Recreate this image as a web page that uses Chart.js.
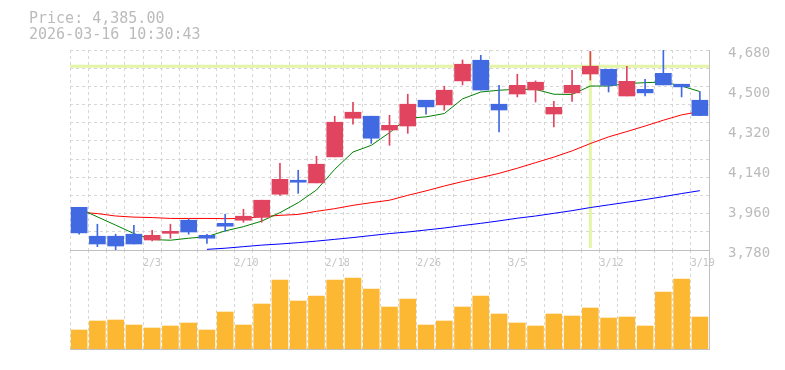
<!DOCTYPE html>
<html>
<head>
<meta charset="utf-8">
<script src="https://cdn.jsdelivr.net/npm/chart.js@4.4.1/dist/chart.umd.min.js"></script>
<style>
body { margin: 0; background: #fff; width: 785px; height: 370px; overflow: hidden; position: relative; }
.layer { position: absolute; left: 0; top: 0; }
#info { position: absolute; left: 29px; top: 10px; color: #bbb; font: 15px "DejaVu Sans Mono", monospace; line-height: 16px; white-space: pre; }
</style>
</head>
<body>
<canvas id="vol" class="layer" width="785" height="370"></canvas>
<canvas id="price" class="layer" width="785" height="370"></canvas>
<div id="info">Price: 4,385.00
2026-03-16 10:30:43</div>
<script>
// ////// data ////////
const dates = ['1/28','1/29','1/30','2/2','2/3','2/4','2/5','2/6','2/9','2/10','2/12','2/13','2/16','2/17','2/18','2/19','2/20','2/24','2/25','2/26','2/27','3/2','3/3','3/4','3/5','3/6','3/9','3/10','3/11','3/12','3/13','3/16','3/17','3/18','3/19'];
const labelDates = ['2/3','2/10','2/18','2/26','3/5','3/12','3/19'];
const opens  = [3972,3842,3842,3851,3825,3855,3914,3846,3900,3914,3927,4031,4094,4082,4199,4373,4382,4320,4338,4454,4433,4541,4634,4436,4482,4500,4392,4487,4572,4593,4473,4503,4575,4526,4454];
const closes = [3857,3807,3798,3807,3846,3864,3861,3833,3887,3932,4004,4098,4085,4166,4355,4400,4283,4341,4436,4424,4499,4616,4500,4410,4521,4535,4422,4521,4607,4521,4539,4487,4523,4514,4385];
const highs  = [3972,3896,3851,3891,3869,3896,3918,3851,3941,3963,4004,4170,4139,4202,4382,4445,4382,4386,4481,4454,4517,4635,4656,4521,4571,4541,4449,4589,4674,4593,4607,4548,4680,4526,4493];
const lows   = [3851,3795,3780,3807,3821,3833,3851,3810,3864,3905,3905,4026,4035,4082,4199,4346,4260,4251,4305,4391,4409,4523,4500,4311,4469,4446,4334,4449,4545,4491,4473,4473,4523,4469,4385];
const ma5  = [3967,3929,3892,3854,3827,3824,3833,3840,3866,3885,3910,3948,3993,4050,4143,4221,4251,4308,4373,4379,4394,4460,4491,4499,4503,4503,4481,4480,4518,4518,4529,4533,4536,4518,4493];
const ma25 = [3950,3944,3933,3928,3926,3922,3922,3922,3921,3922,3930,3936,3940,3954,3966,3981,3993,4004,4026,4046,4068,4088,4106,4125,4148,4173,4198,4226,4259,4289,4313,4338,4364,4388,4403];
const ma75 = [null,null,null,null,null,null,null,3783,3788,3795,3802,3807,3813,3820,3828,3836,3845,3854,3861,3870,3879,3890,3900,3911,3923,3933,3945,3957,3971,3983,3995,4007,4020,4034,4047];
const volumes = [190,280,290,240,210,230,260,190,370,240,450,690,480,530,690,710,600,420,500,240,280,420,530,350,260,230,350,330,410,310,320,230,570,700,320];
const priceTicks = [3780,3960,4140,4320,4500,4680];
const crossIndex = 28;

const UP = '#e1445f';
const DOWN = '#4169e1';
const GRID = '#d6d6d6';
const AXIS = '#c0c0c0';
const CELL = 639 / dates.length;

const candleColors = opens.map((o, i) => closes[i] >= o ? UP : DOWN);

////// crosshair behind the candles //////
const crosshair = {
    id: 'crosshair',
    beforeDatasetsDraw(chart) {
        const ctx = chart.ctx, a = chart.chartArea;
        const x = chart.scales.x.getPixelForValue(crossIndex);
        const y = chart.scales.y.getPixelForValue(closes[crossIndex]);
        ctx.save();
        ctx.strokeStyle = '#e4f5a6';
        ctx.lineWidth = 3;
        ctx.beginPath();
        ctx.moveTo(a.left, y); ctx.lineTo(a.right, y);
        ctx.moveTo(x, a.top + 2); ctx.lineTo(x, a.bottom - 2);
        ctx.stroke();
        ctx.restore();
    }
};

////// price chart //////
new Chart(document.getElementById('price'), {
    type: 'bar',
    data: {
        labels: dates,
        datasets: [
            { data: opens.map((o, i) => [o, closes[i]]), backgroundColor: candleColors, barThickness: 16, grouped: false },
            { data: lows.map((l, i) => [l, highs[i]]), backgroundColor: candleColors, barThickness: 1, grouped: false },
            { type: 'line', data: ma5, borderColor: '#008000', borderWidth: 1, pointRadius: 0, tension: 0 },
            { type: 'line', data: ma25, borderColor: '#ff0000', borderWidth: 1, pointRadius: 0, tension: 0 },
            { type: 'line', data: ma75, borderColor: '#0000ff', borderWidth: 1, pointRadius: 0, tension: 0 }
        ]
    },
    options: {
        responsive: false,
        animation: false,
        devicePixelRatio: 1,
        layout: { padding: { left: 70, top: 50, right: 0, bottom: 0 } },
        plugins: { legend: { display: false }, tooltip: { enabled: false } },
        scales: {
            x: {
                offset: true,
                grid: { offset: true, color: GRID, drawTicks: false },
                border: { color: AXIS, dash: [3, 3] },
                ticks: {
                    autoSkip: false, maxRotation: 0, align: 'start', labelOffset: -CELL / 2, padding: 7,
                    color: '#c4c4c4', font: { family: 'DejaVu Sans Mono', size: 10 },
                    callback: function (v, i) { return labelDates.includes(dates[i]) ? dates[i] : ''; }
                },
                afterFit: s => { s.height = 120; }
            },
            y: {
                position: 'right',
                min: 3780, max: 4680,
                grid: { display: false },
                border: { color: AXIS },
                afterBuildTicks: s => { s.ticks = priceTicks.map(v => ({ value: v })); },
                ticks: {
                    padding: 11, labelOffset: 3, color: '#bbb', font: { family: 'DejaVu Sans Mono', size: 14 },
                    callback: v => v.toLocaleString('en-US')
                },
                afterFit: s => { s.width = 76; }
            },
            yg: {
                position: 'left',
                min: 0, max: 11,
                ticks: { display: false, stepSize: 1 },
                grid: { color: GRID, drawTicks: false },
                border: { display: false, dash: [3, 3] },
                afterFit: s => { s.width = 0; }
            }
        }
    },
    plugins: [crosshair]
});

////// volume chart //////
new Chart(document.getElementById('vol'), {
    type: 'bar',
    data: {
        labels: dates,
        datasets: [{ data: volumes, backgroundColor: '#fdb833', barThickness: 16 }]
    },
    options: {
        responsive: false,
        animation: false,
        devicePixelRatio: 1,
        layout: { padding: { left: 70, top: 250, right: 0, bottom: 0 } },
        plugins: { legend: { display: false }, tooltip: { enabled: false } },
        scales: {
            x: {
                offset: true,
                grid: { offset: true, color: GRID, drawTicks: false },
                border: { color: AXIS, dash: [3, 3] },
                ticks: { display: false },
                afterFit: s => { s.height = 21; }
            },
            y: {
                position: 'right',
                min: 0, max: 990,
                grid: { display: false },
                border: { color: AXIS },
                ticks: { display: false },
                afterFit: s => { s.width = 76; }
            }
        }
    }
});
</script>
</body>
</html>
